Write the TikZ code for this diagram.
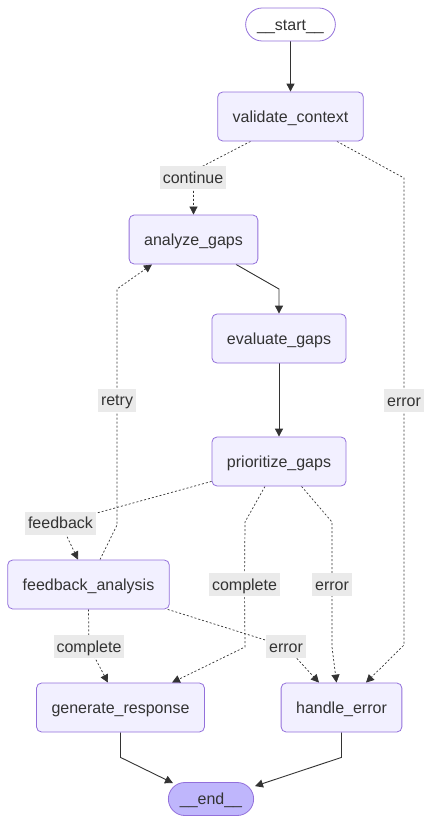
\documentclass[tikz,border=0pt]{standalone}
\usepackage{fontspec}
\setmainfont{Liberation Sans}
\usetikzlibrary{arrows.meta,backgrounds}
\definecolor{nodefill}{HTML}{F2F0FF}
\definecolor{nodeline}{HTML}{9370DB}
\definecolor{stopfill}{HTML}{BFB6FC}
\definecolor{ink}{HTML}{333333}
\definecolor{lblfill}{HTML}{EAEAEA}

\begin{document}
\begin{tikzpicture}[x=1pt,y=-1pt,font=\fontsize{16}{19}\selectfont,text=ink,
  box/.style={draw=nodeline,fill=nodefill,line width=0.8pt,rounded corners=5pt,
    inner xsep=15pt,inner ysep=0pt,minimum height=49pt,text height=13pt,text depth=2pt},
  pill/.style={box,rounded corners=16.5pt,inner xsep=11.5pt,minimum height=33pt},
  lbl/.style={fill=lblfill,inner xsep=3pt,inner ysep=0pt,minimum height=23pt,
    text height=13pt,text depth=2pt},
  flow/.style={draw=ink,line width=0.9pt,-{Triangle[length=8pt,width=8pt]}},
  maybe/.style={flow,line width=0.7pt,dash pattern=on 2pt off 2pt}]
\newcommand\pw{433}
\newcommand\ph{825}
\useasboundingbox (0,0) rectangle (\pw,\ph);

\node[pill,fill=white] (start) at (290.5,24.5) {\_\_start\_\_};
\node[pill,fill=stopfill] (stop) at (211,799) {\_\_end\_\_};

\foreach \nm/\x/\y/\txt in {validate/290.5/116.5/validate\_context,
  analyze/193.5/239.5/analyze\_gaps, evaluate/279/338.5/evaluate\_gaps,
  prioritize/279/461.5/prioritize\_gaps, fbanalysis/88.5/584.5/feedback\_analysis,
  generate/120.5/707.5/generate\_response, handle/341.5/707.5/handle\_error}{
\node[box] (\nm) at (\x,\y) {\txt};
}

\node[lbl] (lcont) at (193,177.5) {continue};
\node[lbl] (lerrv) at (404,400.5) {error};
\node[lbl] (lretry) at (117,400) {retry};
\node[lbl] (lfeed) at (60.5,523) {feedback};
\node[lbl] (lcompp) at (244.5,584.5) {complete};
\node[lbl] (lerrp) at (332,584.5) {error};
\node[lbl] (lcompf) at (89,646.5) {complete};
\node[lbl] (lerrf) at (286,646.5) {error};

\begin{pgfonlayer}{background}
\draw[flow] (start) -- (validate);
\draw[maybe] ([shift={(-40,0)}]validate.south) -- (193.5,171) -- (analyze.north);
\draw[maybe] ([shift={(46.5,0)}]validate.south) -- (404,178) -- (lerrv.center) -- (404,645) -- ([shift={(24.5,0)}]handle.north);
\draw[flow] ([shift={(42.5,0)}]analyze.south) -- (279,289) -- (evaluate.north);
\draw[flow] (evaluate) -- (prioritize);
\draw[maybe] ([shift={(0,-5)}]prioritize.south west) -- (lfeed.center) -- ([shift={(-10.5,0)}]fbanalysis.north);
\draw[maybe] ([shift={(11.5,0)}]fbanalysis.north) -- (117,525) -- (lretry.center) -- (117,289) -- ([shift={(-41.5,0)}]analyze.south);
\draw[maybe] ([shift={(-14,0)}]prioritize.south) -- (245,522) -- (lcompp.center) -- (245,647) -- ([shift={(51.5,0)}]generate.north);
\draw[maybe] ([shift={(22.5,0)}]prioritize.south) -- (332,522) -- (lerrp.center) -- (332,647) -- ([shift={(-5,0)}]handle.north);
\draw[maybe] (fbanalysis.south) -- (lcompf.center) -- ([shift={(-12.5,0)}]generate.north);
\draw[maybe] ([shift={(-2,0)}]fbanalysis.south east) -- (lerrf.center) -- ([shift={(-22.5,0)}]handle.north);
%\draw[flow] (generate) -- (stop);
\draw[flow] (generate.south) -- ++(0,25) -- ([shift={(-38,1)}]stop.north);
\draw[flow] (handle.south) -- ++(0,25) -- ([shift={(44,4)}]stop.north);
\end{pgfonlayer}

\end{tikzpicture}
\end{document}
